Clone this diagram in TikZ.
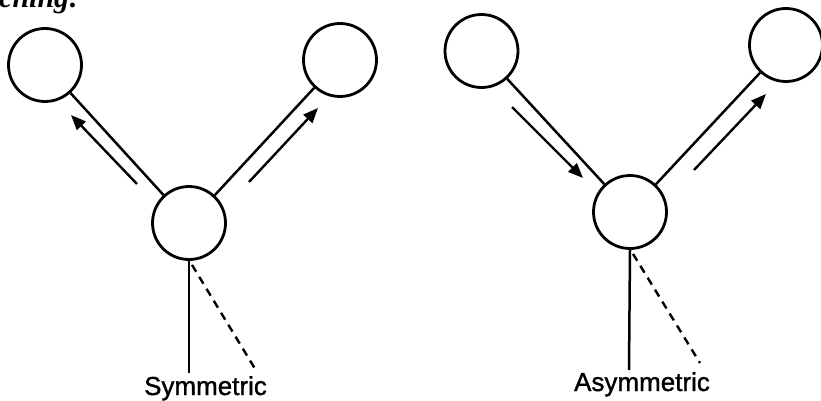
\documentclass[tikz,border=0pt]{standalone}
\usepackage{fontspec}
\setmainfont{Liberation Serif}
\newfontfamily\labfont[FakeBold=1.2]{Liberation Sans}
\usetikzlibrary{arrows.meta}
\tikzset{
  atom/.style={circle, draw, line width=2.8pt, minimum size=73pt, inner sep=0pt},
  bond/.style={line width=2.5pt},
  motion/.style={line width=2.4pt, -{Triangle[length=15pt,width=12pt]}},
  dashbond/.style={line width=2.4pt, dash pattern=on 8pt off 6pt},
  lab/.style={font=\labfont\fontsize{26}{30}\selectfont, inner sep=0pt, anchor=base},
  head/.style={font=\fontsize{30}{34}\selectfont\bfseries\itshape, inner sep=0pt, anchor=base west}
}
\begin{document}
\begin{tikzpicture}[x=1pt,y=-1pt]
\useasboundingbox (0,0) rectangle (821,401);
\fill[white] (0,0) rectangle (821,401);
\node[head] (hd) at (-1,8) {ching:};
% symmetric
\node[atom] (sl) at (45,65) {};
\node[atom] (sr) at (340,60) {};
\node[atom] (sc) at (189,223) {};
\draw[bond] (sl) -- (sc);
\draw[bond] (sr) -- (sc);
\coordinate (sa1) at (137,184); \coordinate (sa2) at (71,115);
\coordinate (sb1) at (249,182); \coordinate (sb2) at (318,108);
\draw[motion] (sa1) -- (sa2);
\draw[motion] (sb1) -- (sb2);
\coordinate (sv) at (189,373);
\coordinate (sd) at (257,372);
\draw[bond] (sc.south) -- (sv);
\draw[dashbond] ([xshift=3pt,yshift=-4pt]sc.south) -- (sd);
\node[lab] (sym) at (205.5,395) {Symmetric};
% asymmetric
\node[atom] (al) at (481.5,51) {};
\node[atom] (ar) at (786,45) {};
\node[atom] (ac) at (630,212) {};
\draw[bond] (al) -- (ac);
\draw[bond] (ar) -- (ac);
\coordinate (aa1) at (512,107); \coordinate (aa2) at (583,178);
\coordinate (ab1) at (694,170); \coordinate (ab2) at (766,94);
\draw[motion] (aa1) -- (aa2);
\draw[motion] (ab1) -- (ab2);
\coordinate (av) at (629,370);
\coordinate (ad) at (700,363);
\draw[bond] (ac.south) -- (av);
\draw[dashbond] ([xshift=3pt,yshift=-4pt]ac.south) -- (ad);
\node[lab] (asym) at (642,391) {Asymmetric};
\end{tikzpicture}
\end{document}
